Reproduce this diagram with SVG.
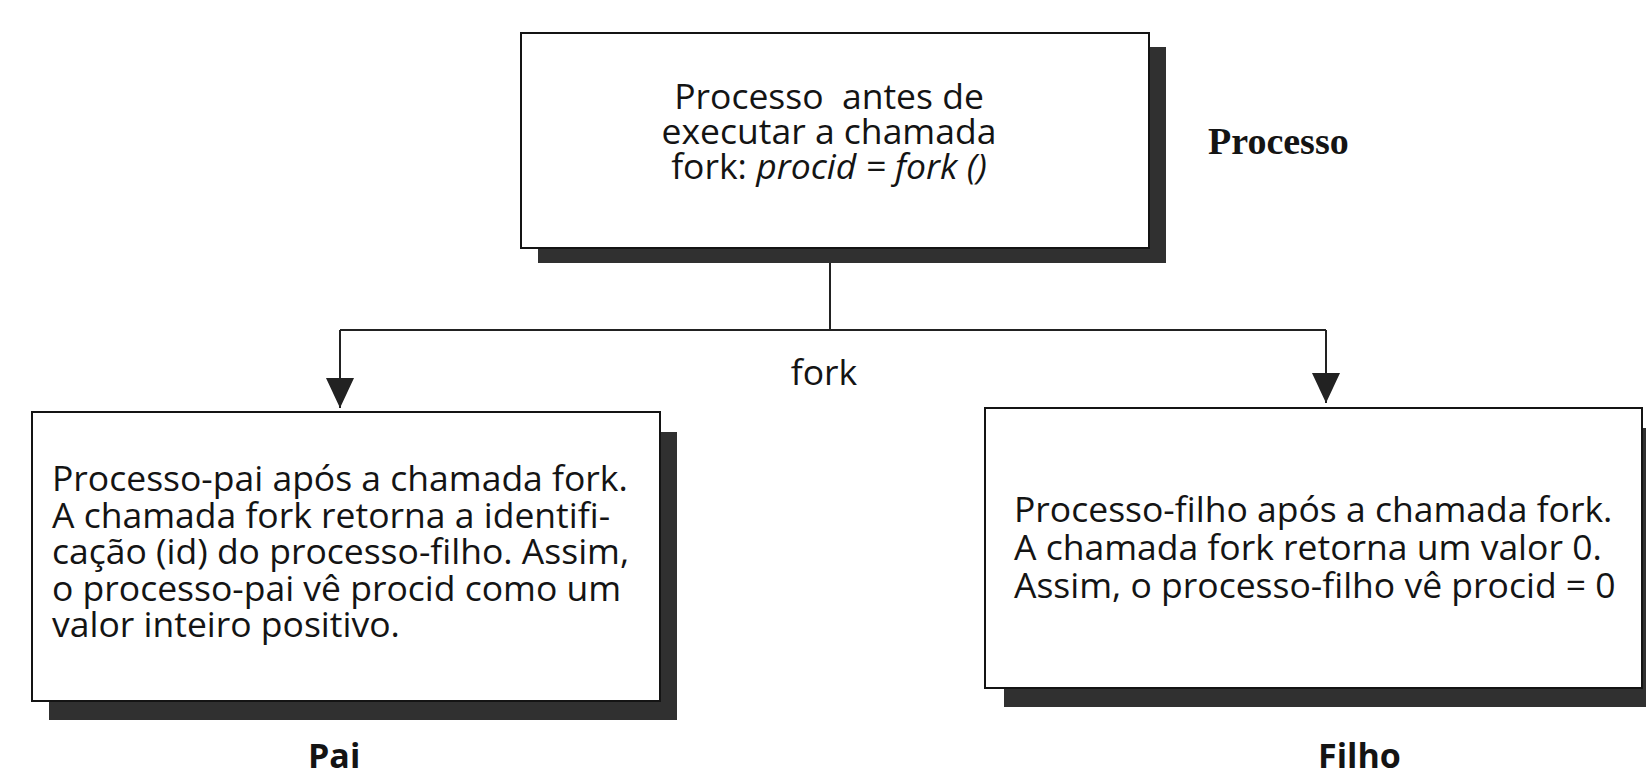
<svg xmlns="http://www.w3.org/2000/svg" width="1646" height="778" viewBox="0 0 1646 778">
  <defs>
    <marker id="arrow" viewBox="0 0 30 28" refX="30" refY="14" markerWidth="30" markerHeight="28" orient="auto" markerUnits="userSpaceOnUse">
      <path d="M0,0 L30,14 L0,28 Z" fill="#222"/>
    </marker>
    <style>
      .box { fill: #ffffff; stroke: #141414; stroke-width: 2; }
      .shadow { fill: #303030; }
      .body { font-family: "Open Sans", "Liberation Sans", sans-serif; font-size: 35.5px; fill: #141414; }
      .label { font-family: "Open Sans", "Liberation Sans", sans-serif; font-size: 34px; font-weight: bold; fill: #141414; }
      .serifbold { font-family: "Liberation Serif", "DejaVu Serif", serif; font-size: 38px; font-weight: bold; fill: #141414; }
      .conn { stroke: #222; stroke-width: 2; fill: none; }
    </style>
  </defs>
  <rect x="0" y="0" width="1646" height="778" fill="#ffffff"/>

  <g id="connectors">
    <path class="conn" d="M830,263 L830,330"/>
    <path class="conn" d="M340,330 L1326,330"/>
    <path class="conn" d="M340,330 L340,408" marker-end="url(#arrow)"/>
    <path class="conn" d="M1326,330 L1326,403" marker-end="url(#arrow)"/>
    <text class="body" x="824" y="385" text-anchor="middle">fork</text>
  </g>

  <g id="processo">
    <rect class="shadow" x="538" y="47" width="628" height="216"/>
    <rect class="box" x="521" y="33" width="628" height="215"/>
    <text class="body" text-anchor="middle" xml:space="preserve"><tspan x="829" y="109">Processo  antes de</tspan><tspan x="829" y="144">executar a chamada</tspan><tspan x="829" y="179">fork: <tspan font-style="italic">procid = fork ()</tspan></tspan></text>
  </g>

  <g id="label-processo">
    <text class="serifbold" x="1208" y="154">Processo</text>
  </g>

  <g id="pai">
    <rect class="shadow" x="49" y="432" width="628" height="288"/>
    <rect class="box" x="32" y="412" width="628" height="289"/>
    <text class="body"><tspan x="52" y="491">Processo-pai após a chamada fork.</tspan><tspan x="52" y="528">A chamada fork retorna a identifi-</tspan><tspan x="52" y="564">cação (id) do processo-filho. Assim,</tspan><tspan x="52" y="601">o processo-pai vê procid como um</tspan><tspan x="52" y="637">valor inteiro positivo.</tspan></text>
  </g>

  <g id="label-pai">
    <text class="label" x="308" y="768">Pai</text>
  </g>

  <g id="filho">
    <rect class="shadow" x="1004" y="428" width="657" height="279"/>
    <rect class="box" x="985" y="408" width="657" height="280"/>
    <text class="body"><tspan x="1014" y="522">Processo-filho após a chamada fork.</tspan><tspan x="1014" y="560">A chamada fork retorna um valor 0.</tspan><tspan x="1014" y="598">Assim, o processo-filho vê procid = 0</tspan></text>
  </g>

  <g id="label-filho">
    <text class="label" x="1318" y="768">Filho</text>
  </g>
</svg>
